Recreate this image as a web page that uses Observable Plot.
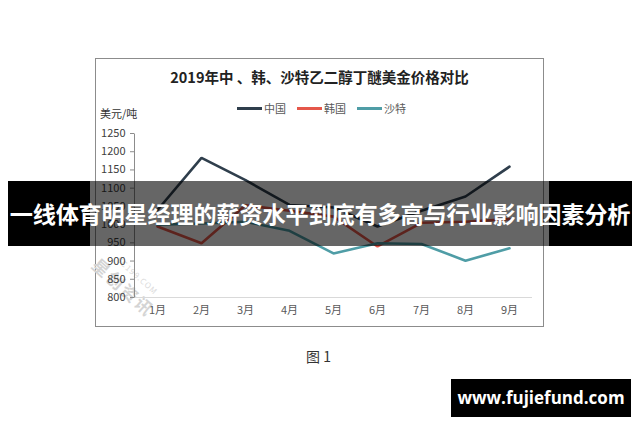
<!DOCTYPE html>
<html>
<head>
<meta charset="utf-8">
<script src="https://cdn.jsdelivr.net/npm/d3@7"></script>
<script src="https://cdn.jsdelivr.net/npm/@observablehq/plot@0.6"></script>
<style>
  html, body { margin:0; padding:0; background:#fff; }
  body { width:640px; height:426px; position:relative; overflow:hidden;
         font-family:"Noto Sans CJK SC","Noto Sans",sans-serif; }
  .abs { position:absolute; }
  #box { left:95px; top:58px; width:449px; height:269px; border:1px solid #8c8c8c; box-sizing:border-box; }
  #title { left:95px; width:449px; top:66px; text-align:center; font-size:14.5px; font-weight:bold; color:#222; }
  #legend { top:100px; left:0; width:640px; height:16px; font-size:11px; color:#595959; }
  .lg { position:absolute; top:0; display:flex; align-items:center; height:16px; }
  .lg span.sw { display:inline-block; width:25px; height:3px; margin-right:2px; }
  #unit { left:100px; top:105px; font-size:11px; color:#333; }
  #chart { left:0; top:0; }
  #wm { left:104px; top:252px; transform:rotate(42deg); transform-origin:left top; color:#d4d4d4; font-size:17px; font-weight:bold; letter-spacing:2px; }
  #wm2 { left:122px; top:254px; transform:rotate(42deg); transform-origin:left top; color:#dadada; font-size:8px; letter-spacing:1px; }
  #bannerL { left:8px; top:181px; width:82px; height:65px; background:#000; }
  #bannerM { left:90px; top:181px; width:459px; height:65px; background:rgba(0,0,0,0.6); }
  #bannerR { left:549px; top:181px; width:83px; height:65px; background:#000; }
  #btext { left:0; top:181px; width:640px; height:65px; line-height:65px; text-align:center; color:#fff; font-size:23.2px; font-weight:bold; white-space:nowrap; letter-spacing:-0.2px; }
  #cap { left:306px; top:346px; font-size:14px; color:#333; }
  #site { left:451px; top:379px; width:180px; height:38px; background:#000; color:#fff; font-size:17px; font-weight:bold; line-height:38px; text-align:center; font-family:"Open Sans","DejaVu Sans",sans-serif; }
</style>
</head>
<body>
<div id="box" class="abs"></div>
<div id="title" class="abs">2019年中 、韩、沙特乙二醇丁醚美金价格对比</div>
<div id="legend" class="abs"></div>
<div id="unit" class="abs">美元/吨</div>
<div id="wm" class="abs">星创资讯</div>
<div id="wm2" class="abs">SC199.COM</div>
<div id="chart" class="abs"></div>
<div id="bannerL" class="abs"></div>
<div id="bannerM" class="abs"></div>
<div id="bannerR" class="abs"></div>
<div id="btext" class="abs">一线体育明星经理的薪资水平到底有多高与行业影响因素分析</div>
<div id="cap" class="abs">图 1</div>
<div id="site" class="abs">www.fujiefund.com</div>
<script>
const months = ["1月","2月","3月","4月","5月","6月","7月","8月","9月"];
const seriesNames = ["中国","韩国","沙特"];
const seriesColors = ["#2f3e4c","#e5574a","#4f9da6"];
const china = [1040,1183,1122,1054,1047,995,1038,1077,1159];
const korea = [995,949,1053,1038,1022,940,1005,1008,1015];
const saudi = [1000,1003,1008,983,921,949,947,901,935];
const yTicks = [800,850,900,950,1000,1050,1100,1150,1200,1250];

const values = [china, korea, saudi];
const data = [];
seriesNames.forEach((s, i) => months.forEach((m, j) => data.push({series:s, month:m, value:values[i][j]})));

// legend
const legend = document.getElementById("legend");
const legendX = [237, 297, 357];
seriesNames.forEach((s, i) => {
  const d = document.createElement("div");
  d.className = "lg";
  d.style.left = legendX[i] + "px";
  d.innerHTML = `<span class="sw" style="background:${seriesColors[i]}"></span><span>${s}</span>`;
  legend.appendChild(d);
});

const W = 640, H = 426, ML = 134, MR = 108, MT = 133, MB = 129;
const fw = W - ML - MR, fh = H - MT - MB;

const chart = Plot.plot({
  width: W,
  height: H,
  marginLeft: ML,
  marginRight: MR,
  marginTop: MT,
  marginBottom: MB,
  style: {fontFamily: '"Noto Sans CJK SC","Noto Sans",sans-serif', fontSize: "11px", background: "transparent", color: "#404040"},
  x: {type: "point", domain: months, padding: 0.5},
  y: {domain: [800, 1250]},
  color: {domain: seriesNames, range: seriesColors},
  marks: [
    Plot.ruleY([800], {stroke: "#d9d9d9", strokeWidth: 1}),
    // left side only of the frame = y axis line
    Plot.frame({stroke: "#8c8c8c", strokeDasharray: `0 ${2 * fw + fh} ${fh}`}),
    Plot.axisY({ticks: yTicks, tickSize: 4, tickPadding: 5, tickFormat: d => String(d), label: null, stroke: "#8c8c8c", strokeOpacity: 1, fill: "#404040"}),
    Plot.axisX({tickSize: 0, tickPadding: 9, label: null, fill: "#595959"}),
    Plot.line(data, {x: "month", y: "value", stroke: "series", strokeWidth: 2.6, strokeLinejoin: "miter", curve: "linear"})
  ]
});
document.getElementById("chart").appendChild(chart);
</script>
</body>
</html>
